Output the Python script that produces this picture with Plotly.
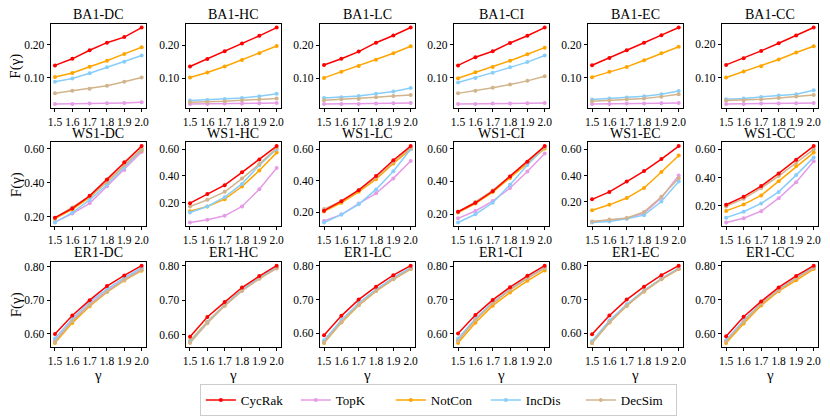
import plotly.graph_objects as go
from plotly.subplots import make_subplots

gammas = [1.5, 1.6, 1.7, 1.8, 1.9, 2.0]
methods = ["CycRak", "TopK", "NotCon", "IncDis", "DecSim"]
colors = {"CycRak": "#ff0000", "TopK": "#e59be5", "NotCon": "#ffa500",
          "IncDis": "#87cefa", "DecSim": "#d2b48c"}
row_names = ["BA1", "WS1", "ER1"]
col_names = ["DC", "HC", "LC", "CI", "EC", "CC"]

# ---- BA1 ----
BA1_DC = {"CycRak": [0.138, 0.158, 0.184, 0.207, 0.224, 0.253],
          "TopK":   [0.021, 0.021, 0.022, 0.023, 0.024, 0.026],
          "NotCon": [0.103, 0.115, 0.134, 0.152, 0.173, 0.193],
          "IncDis": [0.088, 0.098, 0.114, 0.132, 0.149, 0.168],
          "DecSim": [0.053, 0.061, 0.067, 0.076, 0.088, 0.101]}
BA1_HC = {"CycRak": [0.135, 0.158, 0.181, 0.205, 0.228, 0.253],
          "TopK":   [0.022, 0.022, 0.023, 0.023, 0.024, 0.025],
          "NotCon": [0.102, 0.117, 0.135, 0.155, 0.175, 0.197],
          "IncDis": [0.032, 0.034, 0.037, 0.040, 0.045, 0.053],
          "DecSim": [0.027, 0.028, 0.030, 0.033, 0.036, 0.038]}
BA1_LC = {"CycRak": [0.140, 0.159, 0.181, 0.208, 0.230, 0.254],
          "TopK":   [0.022, 0.022, 0.022, 0.023, 0.024, 0.025],
          "NotCon": [0.101, 0.120, 0.137, 0.156, 0.176, 0.197],
          "IncDis": [0.040, 0.042, 0.046, 0.053, 0.060, 0.070],
          "DecSim": [0.033, 0.036, 0.037, 0.042, 0.046, 0.049]}
BA1_CI = {"CycRak": [0.138, 0.163, 0.181, 0.206, 0.228, 0.253],
          "TopK":   [0.021, 0.021, 0.022, 0.022, 0.023, 0.024],
          "NotCon": [0.099, 0.117, 0.133, 0.152, 0.172, 0.192],
          "IncDis": [0.086, 0.100, 0.116, 0.132, 0.148, 0.168],
          "DecSim": [0.053, 0.061, 0.070, 0.080, 0.091, 0.105]}
BA1_EC = {"CycRak": [0.138, 0.160, 0.183, 0.206, 0.229, 0.252],
          "TopK":   [0.021, 0.021, 0.022, 0.022, 0.023, 0.024],
          "NotCon": [0.102, 0.118, 0.133, 0.153, 0.174, 0.194],
          "IncDis": [0.034, 0.037, 0.040, 0.044, 0.050, 0.060],
          "DecSim": [0.029, 0.032, 0.035, 0.037, 0.043, 0.050]}
BA1_CC = {"CycRak": [0.138, 0.158, 0.180, 0.203, 0.226, 0.250],
          "TopK":   [0.021, 0.021, 0.022, 0.022, 0.023, 0.024],
          "NotCon": [0.100, 0.118, 0.134, 0.154, 0.175, 0.194],
          "IncDis": [0.035, 0.037, 0.042, 0.046, 0.050, 0.062],
          "DecSim": [0.031, 0.032, 0.035, 0.039, 0.043, 0.048]}

# ---- WS1 ----
WS1_DC = {"CycRak": [0.196, 0.250, 0.324, 0.419, 0.520, 0.615],
          "TopK":   [0.170, 0.220, 0.280, 0.380, 0.475, 0.580],
          "NotCon": [0.190, 0.245, 0.315, 0.410, 0.500, 0.590],
          "IncDis": [0.168, 0.225, 0.300, 0.390, 0.490, 0.595],
          "DecSim": [0.195, 0.255, 0.320, 0.405, 0.505, 0.600]}
WS1_HC = {"CycRak": [0.195, 0.263, 0.330, 0.427, 0.523, 0.624],
          "TopK":   [0.050, 0.070, 0.100, 0.170, 0.300, 0.460],
          "NotCon": [0.135, 0.170, 0.225, 0.320, 0.440, 0.575],
          "IncDis": [0.125, 0.170, 0.240, 0.340, 0.480, 0.600],
          "DecSim": [0.170, 0.220, 0.280, 0.380, 0.490, 0.610]}
WS1_LC = {"CycRak": [0.210, 0.270, 0.340, 0.430, 0.530, 0.620],
          "TopK":   [0.145, 0.185, 0.255, 0.320, 0.415, 0.525],
          "NotCon": [0.205, 0.260, 0.330, 0.410, 0.510, 0.600],
          "IncDis": [0.135, 0.185, 0.250, 0.345, 0.460, 0.600],
          "DecSim": [0.220, 0.270, 0.340, 0.420, 0.520, 0.610]}
WS1_CI = {"CycRak": [0.215, 0.270, 0.340, 0.430, 0.520, 0.615],
          "TopK":   [0.175, 0.220, 0.280, 0.360, 0.460, 0.570],
          "NotCon": [0.210, 0.265, 0.335, 0.420, 0.510, 0.600],
          "IncDis": [0.150, 0.200, 0.270, 0.380, 0.500, 0.610],
          "DecSim": [0.215, 0.275, 0.345, 0.430, 0.520, 0.610]}
WS1_EC = {"CycRak": [0.217, 0.274, 0.353, 0.434, 0.526, 0.625],
          "TopK":   [0.045, 0.055, 0.070, 0.110, 0.230, 0.400],
          "NotCon": [0.133, 0.175, 0.227, 0.304, 0.427, 0.553],
          "IncDis": [0.040, 0.047, 0.069, 0.096, 0.200, 0.353],
          "DecSim": [0.047, 0.062, 0.074, 0.121, 0.237, 0.378]}
WS1_CC = {"CycRak": [0.207, 0.264, 0.339, 0.429, 0.527, 0.623],
          "TopK":   [0.081, 0.111, 0.161, 0.253, 0.367, 0.516],
          "NotCon": [0.163, 0.209, 0.273, 0.374, 0.481, 0.577],
          "IncDis": [0.115, 0.157, 0.216, 0.298, 0.417, 0.543],
          "DecSim": [0.195, 0.250, 0.325, 0.410, 0.505, 0.600]}

# ---- ER1 ----
ER1_DC = {"CycRak": [0.599, 0.654, 0.700, 0.742, 0.774, 0.803],
          "TopK":   [0.578, 0.640, 0.688, 0.728, 0.763, 0.793],
          "NotCon": [0.572, 0.632, 0.682, 0.724, 0.759, 0.788],
          "IncDis": [0.585, 0.645, 0.695, 0.733, 0.767, 0.797],
          "DecSim": [0.575, 0.637, 0.685, 0.725, 0.760, 0.790]}
ER1_HC = {"CycRak": [0.595, 0.652, 0.695, 0.737, 0.770, 0.800],
          "TopK":   [0.580, 0.636, 0.686, 0.729, 0.764, 0.794],
          "NotCon": [0.583, 0.638, 0.687, 0.730, 0.764, 0.793],
          "IncDis": [0.581, 0.637, 0.687, 0.730, 0.765, 0.795],
          "DecSim": [0.577, 0.634, 0.684, 0.727, 0.762, 0.792]}
ER1_LC = {"CycRak": [0.595, 0.652, 0.700, 0.738, 0.772, 0.800],
          "TopK":   [0.574, 0.634, 0.684, 0.726, 0.761, 0.791],
          "NotCon": [0.572, 0.632, 0.683, 0.725, 0.760, 0.790],
          "IncDis": [0.580, 0.640, 0.690, 0.730, 0.765, 0.795],
          "DecSim": [0.573, 0.633, 0.684, 0.725, 0.760, 0.790]}
ER1_CI = {"CycRak": [0.600, 0.655, 0.700, 0.738, 0.772, 0.802],
          "TopK":   [0.580, 0.642, 0.690, 0.730, 0.764, 0.795],
          "NotCon": [0.572, 0.632, 0.683, 0.722, 0.757, 0.788],
          "IncDis": [0.585, 0.645, 0.693, 0.732, 0.767, 0.797],
          "DecSim": [0.578, 0.640, 0.690, 0.730, 0.765, 0.795]}
ER1_EC = {"CycRak": [0.598, 0.653, 0.700, 0.738, 0.772, 0.800],
          "TopK":   [0.573, 0.633, 0.683, 0.725, 0.761, 0.791],
          "NotCon": [0.572, 0.632, 0.682, 0.724, 0.760, 0.790],
          "IncDis": [0.578, 0.638, 0.686, 0.727, 0.762, 0.793],
          "DecSim": [0.572, 0.632, 0.682, 0.724, 0.760, 0.790]}
ER1_CC = {"CycRak": [0.593, 0.650, 0.695, 0.736, 0.770, 0.800],
          "TopK":   [0.578, 0.637, 0.688, 0.730, 0.764, 0.795],
          "NotCon": [0.573, 0.630, 0.683, 0.725, 0.757, 0.790],
          "IncDis": [0.582, 0.640, 0.690, 0.730, 0.765, 0.797],
          "DecSim": [0.577, 0.635, 0.688, 0.728, 0.763, 0.793]}

panels = [[BA1_DC, BA1_HC, BA1_LC, BA1_CI, BA1_EC, BA1_CC],
          [WS1_DC, WS1_HC, WS1_LC, WS1_CI, WS1_EC, WS1_CC],
          [ER1_DC, ER1_HC, ER1_LC, ER1_CI, ER1_EC, ER1_CC]]
row_dticks = [0.1, 0.2, 0.1]

W, H = 830, 416
col_px = [(48, 144), (184, 280), (319, 415), (454, 550), (589, 685), (724, 821)]
row_px = [(22, 107), (142, 227), (263, 349)]
FONT = "Times New Roman, Liberation Serif, Tinos, Nimbus Roman, DejaVu Serif, serif"

fig = make_subplots(rows=3, cols=6)
draw_order = ["TopK", "NotCon", "IncDis", "DecSim", "CycRak"]
annotations = []
for r in range(3):
    for c in range(6):
        data = panels[r][c]
        first = (r == 0 and c == 0)
        for m in draw_order:
            fig.add_trace(go.Scatter(
                x=gammas, y=data[m], mode="lines+markers", name=m,
                line=dict(color=colors[m], width=1.5),
                marker=dict(color=colors[m], size=4),
                showlegend=first, legendrank=methods.index(m) + 1),
                row=r + 1, col=c + 1)
        allv = [v for m in methods for v in data[m]]
        lo, hi = min(allv), max(allv)
        pad = 0.05 * (hi - lo)
        idx = r * 6 + c + 1
        xa = "xaxis" if idx == 1 else f"xaxis{idx}"
        ya = "yaxis" if idx == 1 else f"yaxis{idx}"
        x0, x1 = col_px[c]
        y0, y1 = row_px[r]
        axstyle = dict(showline=True, linecolor="black", linewidth=1, mirror=True,
                       ticks="outside", ticklen=3, tickwidth=1, tickcolor="black",
                       showgrid=False, zeroline=False,
                       tickfont=dict(family=FONT, size=11.5, color="black"))
        fig.layout[xa].update(domain=[x0 / W, x1 / W], range=[1.475, 2.025],
                              tickmode="array", tickvals=gammas,
                              ticktext=[f"{g:.1f}" for g in gammas], **axstyle)
        fig.layout[ya].update(domain=[1 - y1 / H, 1 - y0 / H], range=[lo - pad, hi + pad],
                              dtick=row_dticks[r], tick0=0, tickformat=".2f", **axstyle)
        annotations.append(dict(text=f"{row_names[r]}-{col_names[c]}", xref="paper", yref="paper",
                                x=(x0 + x1) / 2 / W, y=1 - (y0 - 9) / H, showarrow=False,
                                xanchor="center", yanchor="middle",
                                font=dict(family=FONT, size=14, color="black")))
    y0, y1 = row_px[r]
    annotations.append(dict(text="F(γ)", xref="paper", yref="paper", x=13 / W,
                            y=1 - (y0 + y1) / 2 / H, showarrow=False, textangle=-90,
                            xanchor="center", yanchor="middle",
                            font=dict(family=FONT, size=15, color="black")))
for c in range(6):
    x0, x1 = col_px[c]
    annotations.append(dict(text="γ", xref="paper", yref="paper", x=(x0 + x1) / 2 / W,
                            y=1 - 378 / H, showarrow=False, xanchor="center", yanchor="middle",
                            font=dict(family=FONT, size=15, color="black")))

fig.update_layout(
    width=W, height=H, margin=dict(l=0, r=0, t=0, b=0),
    paper_bgcolor="white", plot_bgcolor="white",
    annotations=annotations,
    legend=dict(orientation="h", x=438.5 / W, xanchor="center", y=1 - 387 / H, yanchor="top",
                bordercolor="#cccccc", borderwidth=1, bgcolor="white",
                font=dict(family=FONT, size=13, color="black"),
                entrywidth=50, tracegroupgap=0, itemwidth=30),
    font=dict(family=FONT),
)
fig.write_html("out.html", config={"displayModeBar": False},
               post_script="document.body.style.margin='0';document.body.style.overflow='hidden';")
